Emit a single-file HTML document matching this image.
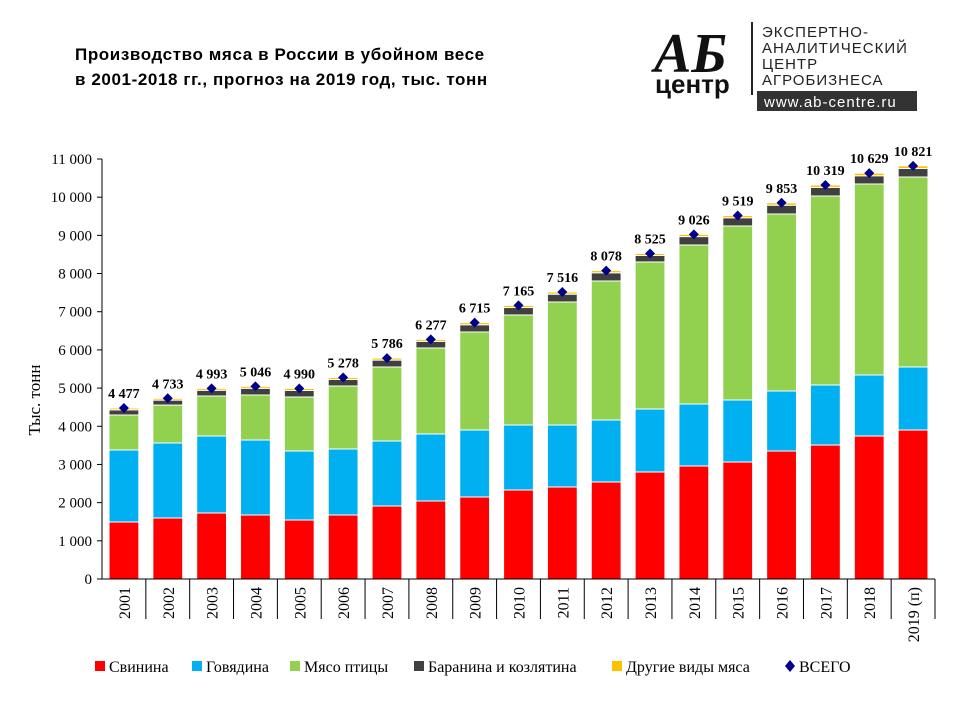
<!DOCTYPE html>
<html><head><meta charset="utf-8">
<style>
body{margin:0;background:#fff;width:960px;height:720px;overflow:hidden;font-family:"Liberation Sans",sans-serif}
svg text{font-family:"Liberation Serif",serif}
</style></head>
<body>
<svg width="960" height="720" id="c">
<text x="75" y="60" style="font-family:'Liberation Sans',sans-serif;font-weight:bold;font-size:17px;letter-spacing:0.6px">Производство  мяса в России в убойном весе</text>
<text x="75" y="85" style="font-family:'Liberation Sans',sans-serif;font-weight:bold;font-size:17px;letter-spacing:0.6px">в 2001-2018 гг., прогноз  на 2019 год, тыс. тонн</text>
<g>
<text x="654" y="72" style="font-family:'Liberation Serif',serif;font-weight:bold;font-size:56px;font-style:italic" fill="#111">АБ</text>
<text x="655" y="93" style="font-family:'Liberation Sans',sans-serif;font-weight:bold;font-size:26px" fill="#111">центр</text>
<line x1="752" y1="22" x2="752" y2="95" stroke="#222" stroke-width="2"/>
<text x="762" y="37" style="font-family:'Liberation Sans',sans-serif;font-size:15px;letter-spacing:1px" fill="#222">ЭКСПЕРТНО-</text>
<text x="762" y="53" style="font-family:'Liberation Sans',sans-serif;font-size:15px;letter-spacing:1px" fill="#222">АНАЛИТИЧЕСКИЙ</text>
<text x="762" y="69" style="font-family:'Liberation Sans',sans-serif;font-size:15px;letter-spacing:1px" fill="#222">ЦЕНТР</text>
<text x="762" y="85" style="font-family:'Liberation Sans',sans-serif;font-size:15px;letter-spacing:1px" fill="#222">АГРОБИЗНЕСА</text>
<rect x="757" y="91" width="160" height="20" fill="#333"/>
<text x="764" y="107" style="font-family:'Liberation Sans',sans-serif;font-size:15px;letter-spacing:1px" fill="#fff">www.ab-centre.ru</text>
</g>
<text transform="translate(40,400) rotate(-90)" text-anchor="middle" style="font-size:17px">Тыс. тонн</text>
<g id="plot"></g>
</svg>
<script>
const years=["2001","2002","2003","2004","2005","2006","2007","2008","2009","2010","2011","2012","2013","2014","2015","2016","2017","2018","2019 (п)"];
const pork=[1493,1598,1729,1676,1545,1676,1912,2043,2148,2331,2410,2541,2803,2960,3064,3352,3509,3745,3902];
const beef=[1886,1964,2016,1964,1807,1729,1702,1755,1754,1702,1623,1623,1649,1623,1624,1572,1572,1598,1651];
const poultry=[916,993,1048,1179,1415,1650,1939,2252,2567,2882,3222,3641,3851,4165,4558,4636,4950,5003,4976];
const mutton=[135,130,150,175,170,170,180,175,190,195,205,215,170,220,215,230,225,215,222];
const other=[47,46,50,52,53,53,53,52,56,55,56,58,52,58,58,63,63,68,70];
const total=[4477,4733,4993,5046,4990,5278,5786,6277,6715,7165,7516,8078,8525,9026,9519,9853,10319,10629,10821];
const yTicks=[0,1000,2000,3000,4000,5000,6000,7000,8000,9000,10000,11000];
const x0=102,x1=935,y0=579,yTop=159,yMax=11000;
const step=(x1-x0)/years.length;
const Y=v=>y0-(v/yMax)*(y0-yTop);
const Xc=i=>x0+step*(i+0.5);
const NS="http://www.w3.org/2000/svg";
const g=document.getElementById('plot');
function mk(t,a){const e=document.createElementNS(NS,t);for(const k in a)e.setAttribute(k,a[k]);g.appendChild(e);return e;}
const fmt=v=>{const s=String(v);return s.length>3?s.slice(0,-3)+" "+s.slice(-3):s;};
yTicks.forEach(t=>{
 const l=mk('line',{x1:x0-5,x2:x0,y1:Y(t),y2:Y(t),stroke:'#000'});
 
 
 const tx=mk('text',{x:x0-10,y:Y(t)+5,'text-anchor':'end','font-size':'15'});tx.textContent=fmt(t);
 
 
});
const ya=mk('line',{x1:x0,x2:x0,y1:yTop,y2:y0,stroke:'#000'});


const series=[[pork,'#ff0000','pork'],[beef,'#00b0f0','beef'],[poultry,'#92d050','poultry'],[mutton,'#404040','mutton'],[other,'#ffc000','other']];
const bw=step*0.68;
years.forEach((yr,i)=>{
 let cum=0;
 series.forEach(([arr,col,nm])=>{
  const r=mk('rect',{x:Xc(i)-bw/2,y:Y(cum+arr[i]),width:bw,height:Y(cum)-Y(cum+arr[i]),fill:col,stroke:'#fff','stroke-width':'1'});
  
  
  cum+=arr[i];
 });
 const tk=mk('line',{x1:x0+step*(i+1),x2:x0+step*(i+1),y1:y0,y2:y0+40,stroke:'#000'});
 
 
 const xl=mk('text',{transform:`translate(${Xc(i)+6},${y0+8}) rotate(-90)`,'text-anchor':'end','font-size':'16'});xl.textContent=yr;
 
 
 const cy=Y(total[i]);
 const d=mk('path',{d:`M${Xc(i)},${cy-5}L${Xc(i)+5},${cy}L${Xc(i)},${cy+5}L${Xc(i)-5},${cy}Z`,fill:'#00008b'});
 
 
 const tl=mk('text',{x:Xc(i),y:cy-10,'text-anchor':'middle','font-size':'14','font-weight':'bold'});tl.textContent=fmt(total[i]);
 
 
});
const xa=mk('line',{x1:x0,x2:x1,y1:y0,y2:y0,stroke:'#000'});


const leg=[['Свинина','#ff0000',95,'sq'],['Говядина','#00b0f0',192,'sq'],['Мясо птицы','#92d050',290,'sq'],['Баранина и козлятина','#404040',414,'sq'],['Другие виды мяса','#ffc000',612,'sq'],['ВСЕГО','#00008b',785,'dia']];
leg.forEach(([t,c,x,k])=>{
 let m;
 if(k==='sq')m=mk('rect',{x:x,y:661,width:10,height:10,fill:c});
 else m=mk('path',{d:`M${x+5},${660}L${x+10},${666}L${x+5},${672}L${x},${666}Z`,fill:c});
 
 
 const tt=mk('text',{x:x+14,y:672,'font-size':'16'});tt.textContent=t;
 
 
});
</script>
</body></html>
